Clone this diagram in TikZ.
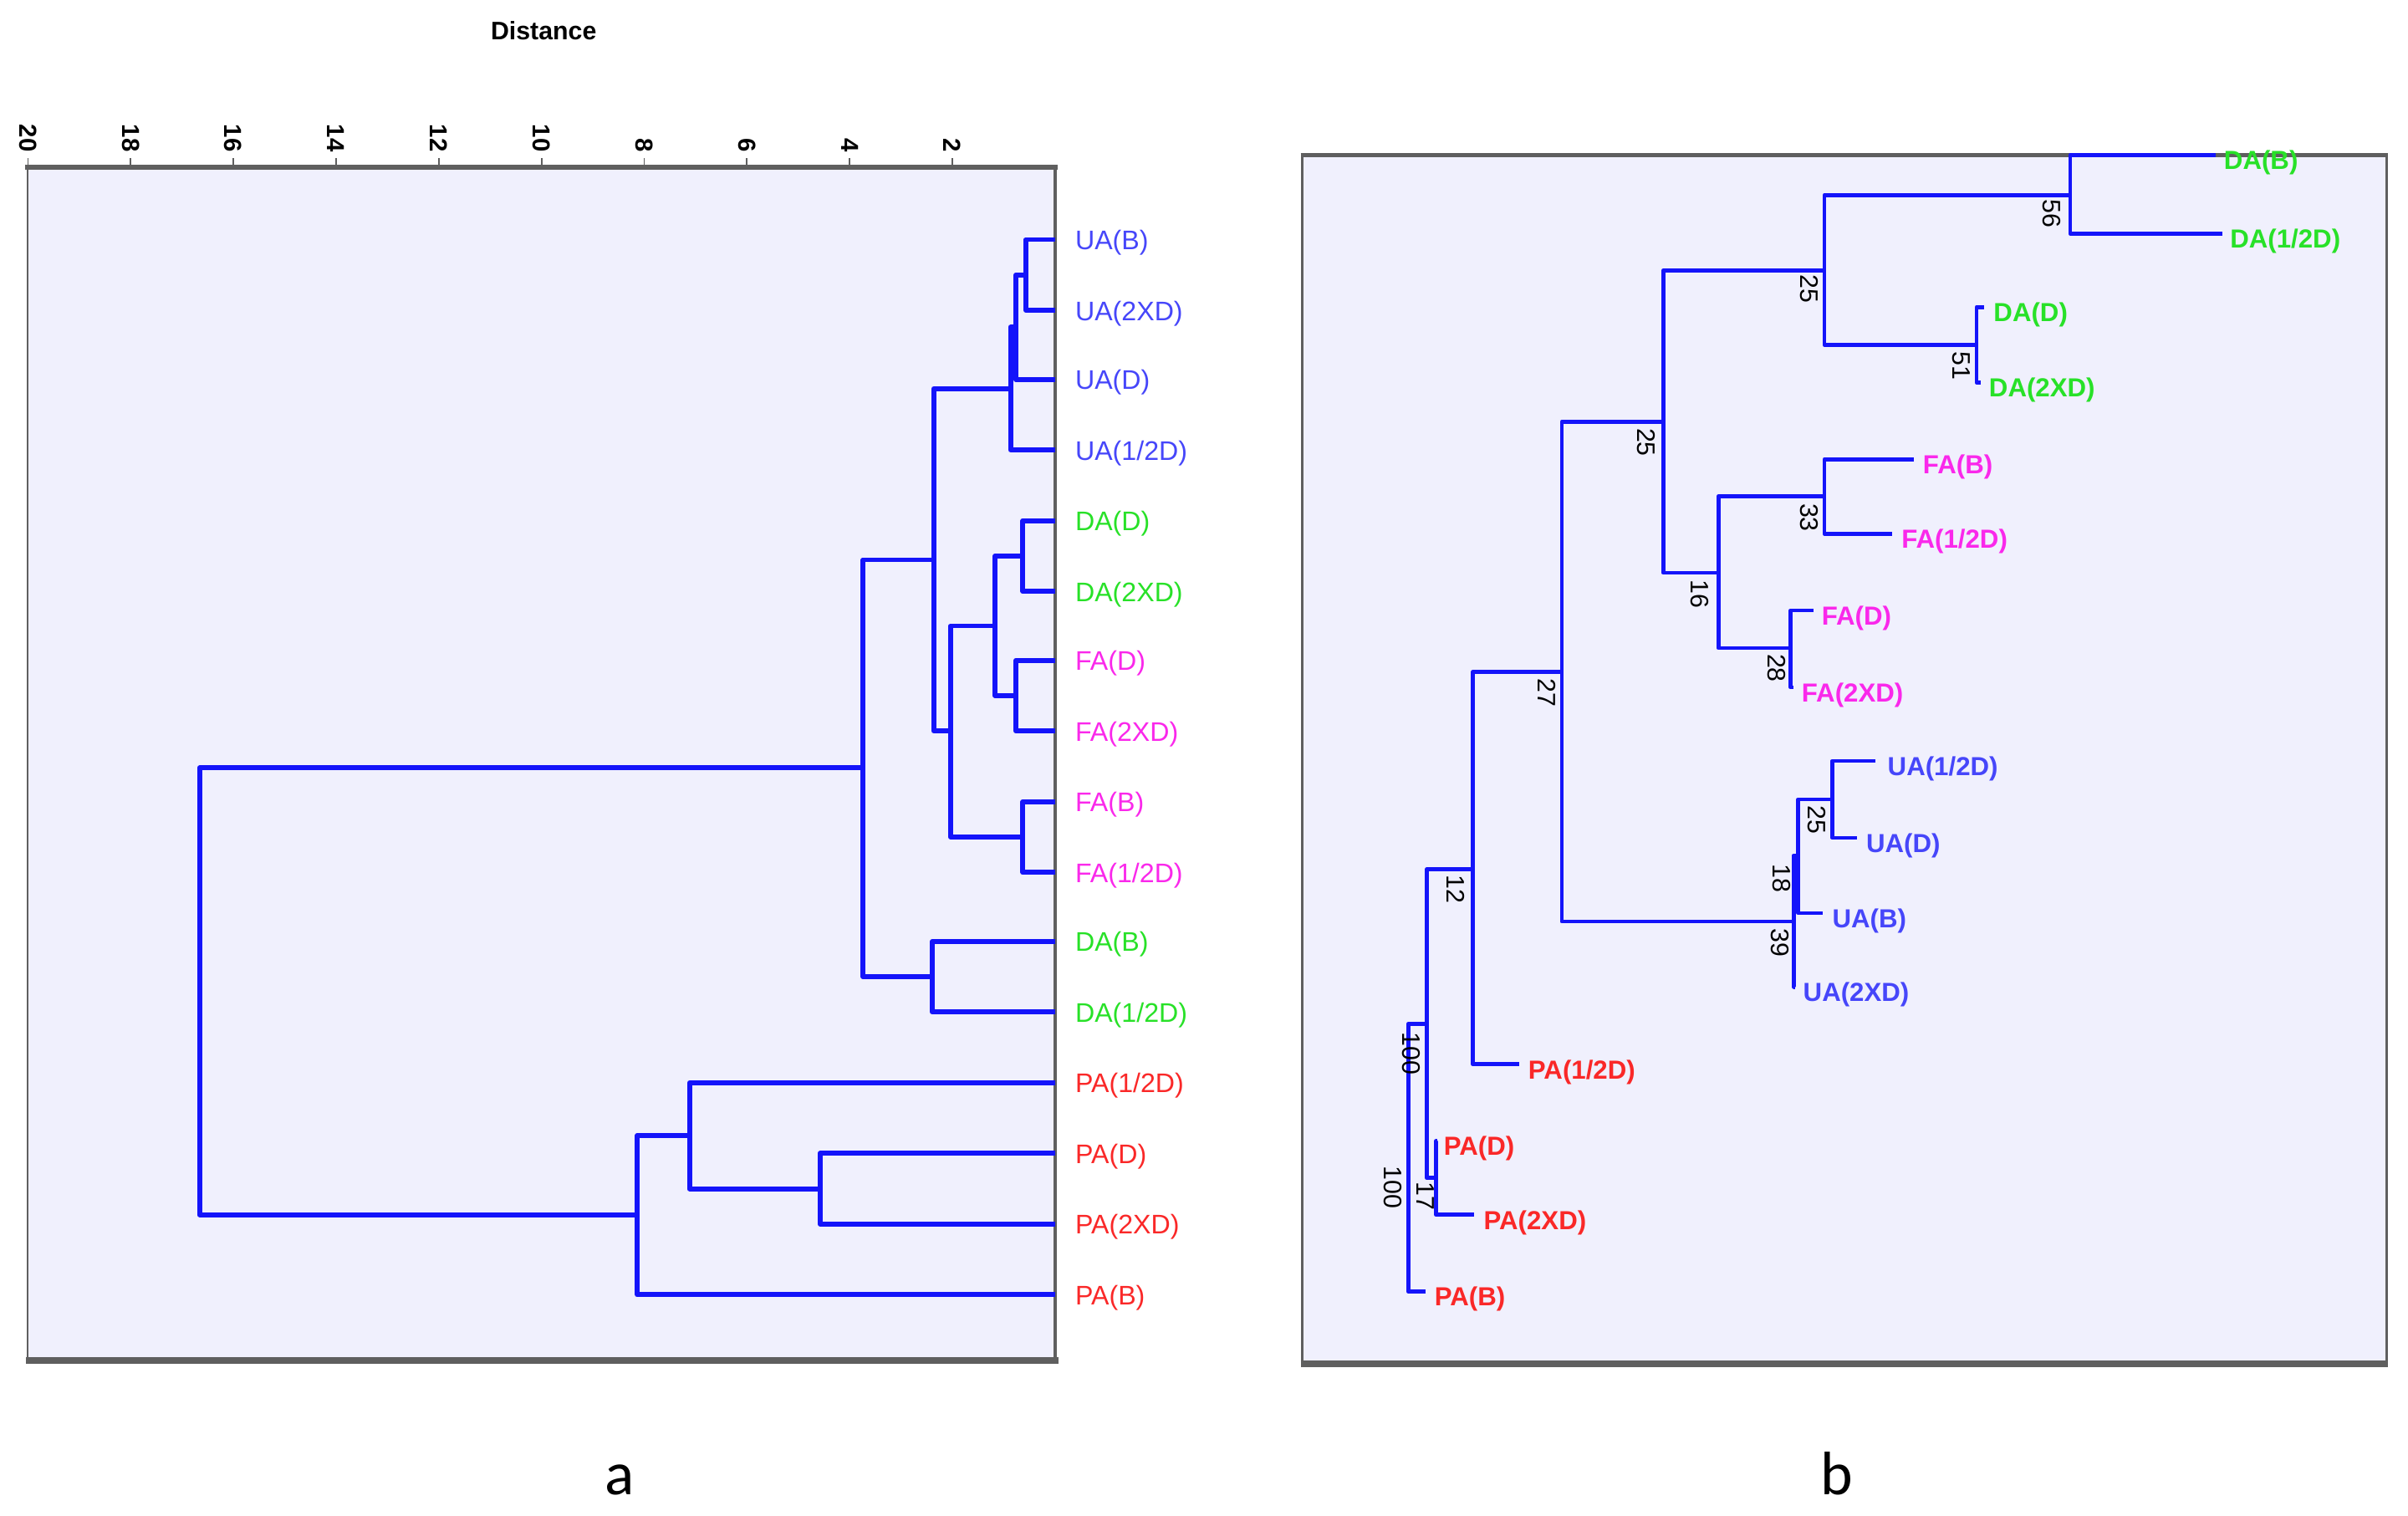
\documentclass[tikz,border=0pt]{standalone}
\usepackage{fontspec}
\setmainfont{Liberation Sans}
\newfontfamily\capfont{Carlito}
\definecolor{treeblue}{RGB}{20,20,250}
\definecolor{uacol}{RGB}{70,70,250}
\definecolor{dacol}{RGB}{40,225,40}
\definecolor{facol}{RGB}{250,40,235}
\definecolor{pacol}{RGB}{250,40,40}
\definecolor{panelbg}{RGB}{240,240,253}
\definecolor{framecol}{RGB}{95,95,95}
\begin{document}
\begin{tikzpicture}[x=1pt,y=-1pt,
  branchA/.style={draw=treeblue,line width=3.2pt,line join=round},
  branchB/.style={draw=treeblue,line width=2.6pt,line join=round},
  leafA/.style={anchor=west,inner sep=0pt,font=\fontsize{17.5}{20}\selectfont},
  leafB/.style={anchor=west,inner sep=0pt,font=\fontsize{17}{20}\selectfont\bfseries},
  boot/.style={rotate=-90,inner sep=0pt,text=black,font=\fontsize{16.5}{18}\selectfont},
  ticklab/.style={rotate=-90,anchor=east,inner sep=0pt,font=\fontsize{16}{18}\selectfont\bfseries},
  caption/.style={anchor=base,inner sep=0pt,font=\capfont\fontsize{40}{44}\selectfont}
]
\useasboundingbox[fill=white] (0,0) rectangle (1568,987);

% ---------------- panel a frame ----------------
\fill[panelbg] (18,109) rectangle (687,886);
\draw[framecol,line width=1.2pt] (18,109) -- (18,886);
\draw[framecol,line width=2.5pt] (687,109) -- (687,886);
\draw[framecol,line width=3.5pt] (16.5,109) -- (688.5,109);
\draw[framecol,line width=4.5pt] (17,886) -- (689,886);

\node[font=\bfseries\fontsize{16.5}{18}\selectfont] (dist) at (354,20) {Distance};
\foreach \d in {20,18,16,14,12,10,8,6,4,2}{
  \pgfmathsetmacro{\xx}{687-33.44*\d}
  \draw[framecol,line width=1pt] (\xx,103) -- (\xx,109);
  \node[ticklab] (tick\d) at (\xx,99) {\d};
}

% leaves of panel a
\foreach \n/\y/\t/\c in {uab/156/{UA(B)}/uacol, ua2/202/{UA(2XD)}/uacol, uad/247/{UA(D)}/uacol, uah/293/{UA(1/2D)}/uacol,
  dad/339/{DA(D)}/dacol, da2/385/{DA(2XD)}/dacol, fad/430/{FA(D)}/facol, fa2/476/{FA(2XD)}/facol,
  fab/522/{FA(B)}/facol, fah/568/{FA(1/2D)}/facol, dab/613/{DA(B)}/dacol, dah/659/{DA(1/2D)}/dacol,
  pah/705/{PA(1/2D)}/pacol, pad/751/{PA(D)}/pacol, pa2/797/{PA(2XD)}/pacol, pab/843/{PA(B)}/pacol}{
  \coordinate (a-\n) at (687,\y);
  \node[leafA,text=\c] (la-\n) at (700,\y+2) {\t};
}

% joins of panel a
\coordinate (A1) at (668,179);
\coordinate (A2) at (661.5,213);
\coordinate (A3) at (658,253);
\coordinate (A4) at (666,362);
\coordinate (A5) at (661.5,453);
\coordinate (A6) at (648,407.5);
\coordinate (A7) at (666,545);
\coordinate (A8) at (619,476);
\coordinate (A9) at (608,364.5);
\coordinate (A10) at (607,636);
\coordinate (A11) at (562,500);
\coordinate (P1) at (534,774);
\coordinate (P2) at (449,739.5);
\coordinate (P3) at (415,791);
\coordinate (AR) at (130,645.5);

\foreach \j/\p/\q in {A1/a-uab/a-ua2, A2/A1/a-uad, A3/A2/a-uah, A4/a-dad/a-da2, A5/a-fad/a-fa2,
  A6/A4/A5, A7/a-fab/a-fah, A8/A6/A7, A9/A3/A8, A10/a-dab/a-dah, A11/A9/A10,
  P1/a-pad/a-pa2, P2/a-pah/P1, P3/P2/a-pab, AR/A11/P3}{
  \draw[branchA] (\j) |- (\p);
  \draw[branchA] (\j) |- (\q);
}

% ---------------- panel b frame ----------------
\fill[panelbg] (848,101) rectangle (1554,888);
\draw[framecol,line width=1.2pt] (848,101) -- (848,888);
\draw[framecol,line width=1.5pt] (1554,101) -- (1554,888);
\draw[framecol,line width=3pt] (847,101) -- (1555,101);
\draw[framecol,line width=4.5pt] (847,888) -- (1555,888);

% leaves of panel b: name / line y / line end x / label x / text / colour
\foreach \n/\y/\xe/\xl/\t/\c in {dab/101/1443/1448/{DA(B)}/dacol, dah/152/1447/1452/{DA(1/2D)}/dacol,
  dad/200/1292/1298/{DA(D)}/dacol, da2/249/1290/1295/{DA(2XD)}/dacol,
  fab/299/1246/1252/{FA(B)}/facol, fah/347.5/1232/1238/{FA(1/2D)}/facol,
  fad/397.5/1181/1186/{FA(D)}/facol, fa2/447.5/1168/1173/{FA(2XD)}/facol,
  uah/495.5/1221/1229/{UA(1/2D)}/uacol, uad/545.5/1209/1215/{UA(D)}/uacol,
  uab/594.5/1187/1193/{UA(B)}/uacol, ua2/642.5/1169/1174/{UA(2XD)}/uacol,
  pah/693/989/995/{PA(1/2D)}/pacol, pad/743/936/940/{PA(D)}/pacol,
  pa2/791/960/966/{PA(2XD)}/pacol, pab/841/928/934/{PA(B)}/pacol}{
  \coordinate (b-\n) at (\xe,\y);
  \node[leafB,text=\c] (lb-\n) at (\xl,\y+5) {\t};
}

\coordinate (B56) at (1348,127);
\coordinate (B51) at (1287,224.5);
\coordinate (B25a) at (1188,176);
\coordinate (B33) at (1188,323);
\coordinate (B28) at (1166,422);
\coordinate (B16) at (1119,373);
\coordinate (B25b) at (1083,274.5);
\coordinate (B25c) at (1193,520.5);
\coordinate (B18) at (1171,557);
\coordinate (B39) at (1168,600);
\coordinate (B27) at (1017,437.5);
\coordinate (B12) at (959,566);
\coordinate (B17) at (935,767);
\coordinate (B100a) at (929,666.5);
\coordinate (B100b) at (917,753);

\foreach \j/\p/\q in {B56/b-dab/b-dah, B51/b-dad/b-da2, B25a/B56/B51, B33/b-fab/b-fah, B28/b-fad/b-fa2,
  B16/B33/B28, B25b/B25a/B16, B25c/b-uah/b-uad, B18/B25c/b-uab, B39/B18/b-ua2, B27/B25b/B39,
  B12/B27/b-pah, B17/b-pad/b-pa2, B100a/B12/B17, B100b/B100a/b-pab}{
  \draw[branchB] (\j) |- (\p);
  \draw[branchB] (\j) |- (\q);
}

% bootstrap values
\node[boot] (v56) at (1336,139) {56};
\node[boot] (v25a) at (1178,188) {25};
\node[boot] (v51) at (1277,238) {51};
\node[boot] (v25b) at (1072,288) {25};
\node[boot] (v33) at (1178,337) {33};
\node[boot] (v16) at (1107,387) {16};
\node[boot] (v28) at (1157,435) {28};
\node[boot] (v27) at (1007,451) {27};
\node[boot] (v25c) at (1183,534) {25};
\node[boot] (v18) at (1160,572) {18};
\node[boot] (v39) at (1159,614) {39};
\node[boot] (v12) at (948,579) {12};
\node[boot] (v100a) at (919,686) {100};
\node[boot] (v17) at (928,779) {17};
\node[boot] (v100b) at (907,773) {100};

% captions
\node[caption] (capa) at (403.5,973) {a};
\node[caption] (capb) at (1196,973) {b};
\end{tikzpicture}
\end{document}
